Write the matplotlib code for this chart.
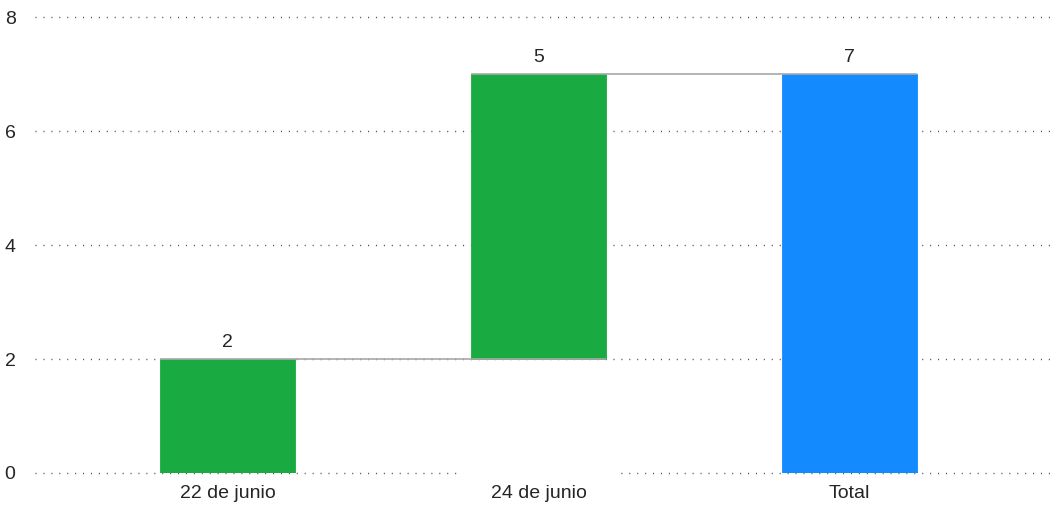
import matplotlib
matplotlib.use("Agg")
import matplotlib.pyplot as plt
import numpy as np

plt.rcParams['font.family'] = ['Liberation Sans', 'DejaVu Sans']

categories = ["22 de junio", "24 de junio", "Total"]
changes = [2, 5]
y_ticks = [0, 2, 4, 6, 8]

green = "#1aaa42"
blue = "#138bff"

total = sum(changes)
ends = np.cumsum(changes)
starts = ends - np.array(changes)
values = list(changes) + [total]
bottoms = list(starts) + [0]
heights = list(changes) + [total]
colors = [green] * len(changes) + [blue]
x = np.arange(len(categories))
w = 0.435

fig = plt.figure(figsize=(10.5, 5.08), dpi=100)
ax = fig.add_axes([0.0333, 0.0689, 0.9667, 0.8976])

# white invisible base bars (they hide the grid at 0 like the original)
base = ax.bar(x[:len(changes)], starts - 0.04, bottom=-0.06, width=w + 0.06,
              color="white", zorder=2)
for b in base:
    b.set_clip_on(False)
    if b.get_height() <= 0:
        b.set_visible(False)
ax.bar(x, heights, bottom=bottoms, width=w, color=colors,
       edgecolor=[c for c in colors], linewidth=0.6, zorder=3)

# connector lines
levels = list(ends)
for i in range(len(levels)):
    ax.plot([x[i] - w / 2, x[i + 1] + w / 2], [levels[i], levels[i]],
            color="#a8a8a8", lw=1.2, zorder=4, solid_capstyle="butt")

for xi, b, h, v in zip(x, bottoms, heights, values):
    ax.annotate(str(v), (xi, b + h), xytext=(0, 6), textcoords="offset points",
                ha="center", va="bottom", fontsize=14, color="#252525")

ax.set_ylim(0, 8)
ax.set_xlim(-0.62, 2.645)
ax.set_yticks(y_ticks)
ax.set_xticks(x)
ax.set_xticklabels(categories)
ax.tick_params(length=0, labelsize=14, colors="#252525")
ax.tick_params(axis="y", pad=14)
ax.tick_params(axis="x", pad=9)
for lbl in ax.get_yticklabels():
    lbl.set_horizontalalignment("right")
for s in ax.spines.values():
    s.set_visible(False)
ax.yaxis.grid(True, linestyle=(0, (0.8, 4.9)), color="#555555", lw=1.0, zorder=1)
ax.set_axisbelow(True)
for gl in ax.get_ygridlines():
    gl.set_clip_on(False)

fig.savefig("out.png", dpi=100)
